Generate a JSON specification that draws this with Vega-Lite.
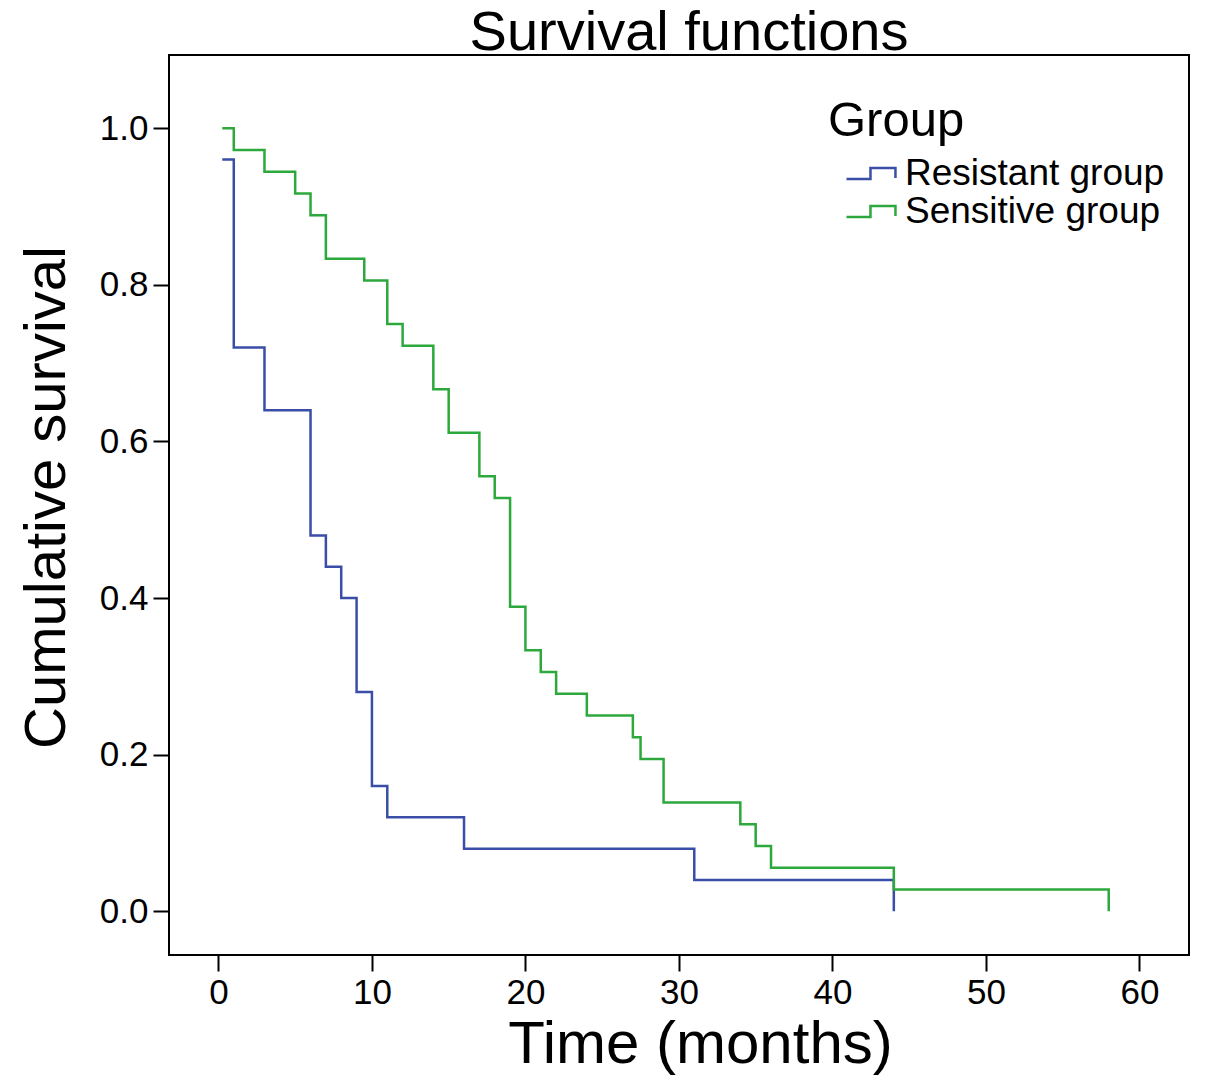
{
  "$schema": "https://vega.github.io/schema/vega-lite/v6.json",
  "autosize": "none",
  "width": 1020,
  "height": 900,
  "padding": {"left": 169, "top": 55, "right": 16, "bottom": 135},
  "background": "white",
  "config": {
    "font": "Liberation Sans",
    "view": {"stroke": "black", "strokeWidth": 2},
    "axis": {"grid": false, "domain": false, "tickColor": "black", "tickWidth": 2, "tickSize": 16, "labelColor": "black", "titleColor": "black", "labelFont": "Liberation Sans", "titleFont": "Liberation Sans", "titleFontWeight": "normal"}
  },
  "title": {"text": "Survival functions", "frame": "group", "fontSize": 56, "fontWeight": "normal", "font": "Liberation Sans", "color": "black", "anchor": "middle", "baseline": "alphabetic", "offset": 3, "dx": 10, "dy": 54},
  "data": {
    "values": [
      {"group": "Resistant group", "time": 0.25, "survival": 0.96},
      {"group": "Resistant group", "time": 1, "survival": 0.72},
      {"group": "Resistant group", "time": 3, "survival": 0.64},
      {"group": "Resistant group", "time": 6, "survival": 0.48},
      {"group": "Resistant group", "time": 7, "survival": 0.44},
      {"group": "Resistant group", "time": 8, "survival": 0.40},
      {"group": "Resistant group", "time": 9, "survival": 0.28},
      {"group": "Resistant group", "time": 10, "survival": 0.16},
      {"group": "Resistant group", "time": 11, "survival": 0.12},
      {"group": "Resistant group", "time": 16, "survival": 0.08},
      {"group": "Resistant group", "time": 31, "survival": 0.04},
      {"group": "Resistant group", "time": 44, "survival": 0.0},
      {"group": "Sensitive group", "time": 0.25, "survival": 1.0},
      {"group": "Sensitive group", "time": 1, "survival": 0.9722},
      {"group": "Sensitive group", "time": 3, "survival": 0.9444},
      {"group": "Sensitive group", "time": 5, "survival": 0.9167},
      {"group": "Sensitive group", "time": 6, "survival": 0.8889},
      {"group": "Sensitive group", "time": 7, "survival": 0.8333},
      {"group": "Sensitive group", "time": 9.5, "survival": 0.8056},
      {"group": "Sensitive group", "time": 11, "survival": 0.75},
      {"group": "Sensitive group", "time": 12, "survival": 0.7222},
      {"group": "Sensitive group", "time": 14, "survival": 0.6667},
      {"group": "Sensitive group", "time": 15, "survival": 0.6111},
      {"group": "Sensitive group", "time": 17, "survival": 0.5556},
      {"group": "Sensitive group", "time": 18, "survival": 0.5278},
      {"group": "Sensitive group", "time": 19, "survival": 0.3889},
      {"group": "Sensitive group", "time": 20, "survival": 0.3333},
      {"group": "Sensitive group", "time": 21, "survival": 0.3056},
      {"group": "Sensitive group", "time": 22, "survival": 0.2778},
      {"group": "Sensitive group", "time": 24, "survival": 0.25},
      {"group": "Sensitive group", "time": 27, "survival": 0.2222},
      {"group": "Sensitive group", "time": 27.5, "survival": 0.1944},
      {"group": "Sensitive group", "time": 29, "survival": 0.1389},
      {"group": "Sensitive group", "time": 34, "survival": 0.1111},
      {"group": "Sensitive group", "time": 35, "survival": 0.0833},
      {"group": "Sensitive group", "time": 36, "survival": 0.0556},
      {"group": "Sensitive group", "time": 44, "survival": 0.0278},
      {"group": "Sensitive group", "time": 58, "survival": 0.0}
    ]
  },
  "mark": {"type": "line", "interpolate": "step-after", "strokeWidth": 2.5},
  "encoding": {
    "x": {
      "field": "time", "type": "quantitative",
      "scale": {"domain": [-3.22, 63.23], "nice": false, "zero": false},
      "axis": {"values": [0, 10, 20, 30, 40, 50, 60], "title": "Time (months)", "labelFontSize": 35, "titleFontSize": 60, "labelPadding": 4, "titlePadding": 5, "titleX": 531, "labelFlush": false}
    },
    "y": {
      "field": "survival", "type": "quantitative",
      "scale": {"domain": [-0.0558, 1.0936], "nice": false, "zero": false},
      "axis": {"values": [0, 0.2, 0.4, 0.6, 0.8, 1.0], "format": ".1f", "title": "Cumulative survival", "labelFontSize": 35, "titleFontSize": 58, "labelPadding": 5, "titlePadding": 23, "titleY": 442, "labelFlush": false}
    },
    "stroke": {
      "field": "group", "type": "nominal",
      "scale": {"domain": ["Resistant group", "Sensitive group"], "range": ["#3A4EA8", "#2CA83C"]},
      "legend": {
        "title": "Group", "orient": "none", "legendX": 659, "legendY": 42,
        "titleFontSize": 49, "titleFontWeight": "normal", "titleColor": "black", "titleFont": "Liberation Sans", "titlePadding": 9,
        "labelFontSize": 37, "labelColor": "black", "labelFont": "Liberation Sans", "labelOffset": 40, "labelLimit": 0,
        "symbolType": "M0,0.32 H1.41 V-0.32 H2.88 V0.26",
        "symbolSize": 1156, "symbolStrokeWidth": 2.5, "symbolFillColor": "transparent",
        "rowPadding": 0, "padding": 0
      }
    }
  }
}
